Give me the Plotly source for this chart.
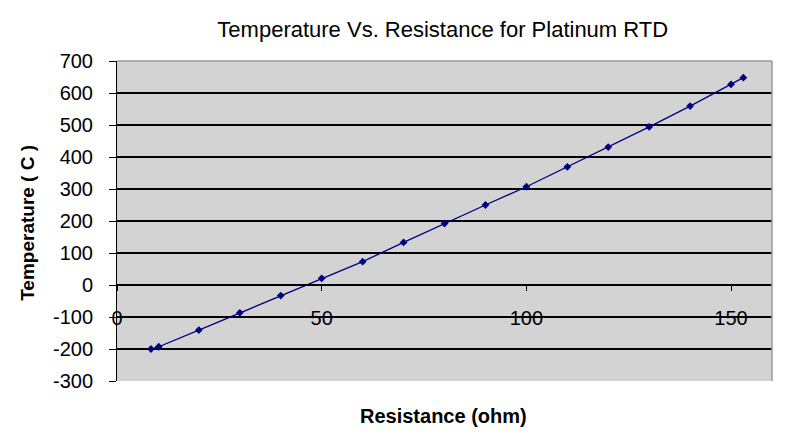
import plotly.graph_objects as go

resistance = [8.3, 10.2, 20, 30, 40, 50, 60, 70, 80, 90, 100, 110, 120, 130, 140, 150, 153]
temperature = [-200, -193, -141, -87, -33, 21, 73, 133, 192, 250, 307, 369, 431, 494, 559, 627, 648]

x_ticks = [0, 50, 100, 150]
y_ticks = list(range(-300, 701, 100))
y_tick_text = [str(v) for v in y_ticks]

FONT = "Liberation Sans, Arial, sans-serif"

fig = go.Figure()
fig.add_trace(go.Scatter(
    x=resistance, y=temperature, mode="lines+markers",
    line=dict(color="#000080", width=1.3),
    marker=dict(symbol="diamond", size=6, color="#000080"),
    showlegend=False,
))

fig.update_layout(
    width=792, height=444,
    margin=dict(l=117, r=20, t=61, b=63, autoexpand=False),
    paper_bgcolor="white", plot_bgcolor="#D3D3D3",
    font=dict(family=FONT, color="black"),
    title=dict(text="Temperature Vs. Resistance for Platinum RTD",
               x=0.559, xanchor="center", y=0.935, yanchor="middle",
               font=dict(size=22, family=FONT)),
    xaxis=dict(range=[0, 160], tickvals=x_ticks, showgrid=False, zeroline=False,
               anchor="free", position=0.3, showline=True, linecolor="black", linewidth=1.5,
               ticks="outside", ticklen=5, tickcolor="black",
               ticklabelstandoff=10,
               tickfont=dict(size=20, family=FONT)),
    yaxis=dict(range=[-300, 700], tickvals=y_ticks, ticktext=y_tick_text,
               showgrid=True, gridcolor="black", gridwidth=1.5,
               zeroline=False, showline=True, linecolor="black", linewidth=1,
               ticks="outside", ticklen=7, tickcolor="black",
               ticklabelstandoff=12,
               tickfont=dict(size=20, family=FONT)),
    annotations=[
        dict(text="<b>Resistance (ohm)</b>", xref="paper", yref="paper",
             x=0.498, y=-0.109, xanchor="center", yanchor="middle", showarrow=False,
             font=dict(size=20, family=FONT)),
        dict(text="<b>Temperature ( C )</b>", xref="paper", yref="paper",
             x=-0.136, y=0.494, xanchor="center", yanchor="middle", showarrow=False,
             textangle=-90, font=dict(size=19, family=FONT)),
    ],
    shapes=[
        dict(type="line", xref="paper", yref="paper", x0=0, x1=1, y0=1, y1=1,
             line=dict(color="#9a9a9a", width=1.5), layer="above"),
        dict(type="line", xref="paper", yref="paper", x0=1, x1=1, y0=0, y1=1,
             line=dict(color="#9a9a9a", width=1.5), layer="above"),
    ],
)

fig.write_html("out.html", config={"displayModeBar": False})

with open("out.html", "r", encoding="utf-8") as f:
    html = f.read()
html = html.replace("<body>", '<body style="margin:0;padding:0;">', 1)
with open("out.html", "w", encoding="utf-8") as f:
    f.write(html)
